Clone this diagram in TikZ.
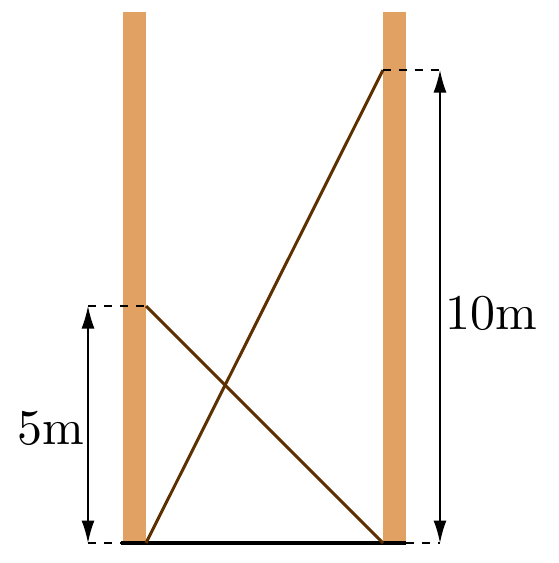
\documentclass[tikz,border=0pt]{standalone}
\usetikzlibrary{arrows.meta}
\definecolor{pole}{RGB}{224,161,98}
\definecolor{rope}{RGB}{94,48,0}
\tikzset{
  polebar/.style={fill=pole,draw=none},
  ropeline/.style={draw=rope,line width=0.6pt},
  dimline/.style={line width=0.3pt,{Latex[length=4.5pt,width=2.6pt]}-{Latex[length=4.5pt,width=2.6pt]}},
  guide/.style={line width=0.3pt,dash pattern=on 1.6pt off 1.6pt},
}
\begin{document}
\begin{tikzpicture}[x=0.2pt,y=-0.2pt]
\useasboundingbox (0,0) rectangle (559,563);
% poles
\fill[polebar] (123,12) rectangle (146,543);
\fill[polebar] (383,12) rectangle (406,543);
% coordinates
\coordinate (LB) at (146,543);
\coordinate (LM) at (146,306);
\coordinate (RT) at (383,70);
\coordinate (RB) at (383,543);
% ground
\draw[line width=0.7pt] (121,543) -- (406,543);
% ropes
\draw[ropeline] (LB) -- (RT);
\draw[ropeline] (LM) -- (RB);
% guides
\draw[guide] (88,306) -- (LM);
\draw[guide] (88,543) -- (121,543);
\draw[guide] (RT) -- (440,70);
\draw[guide] (406,543) -- (440,543);
% dimensions
\coordinate (A1) at (88,306);
\coordinate (A2) at (88,543);
\coordinate (B1) at (440,70);
\coordinate (B2) at (440,543);
\draw[dimline] (A1) -- (A2);
\draw[dimline] (B1) -- (B2);
\node (five) at (51,428) {5m};
\node (ten) at (491,313) {10m};
\end{tikzpicture}
\end{document}
